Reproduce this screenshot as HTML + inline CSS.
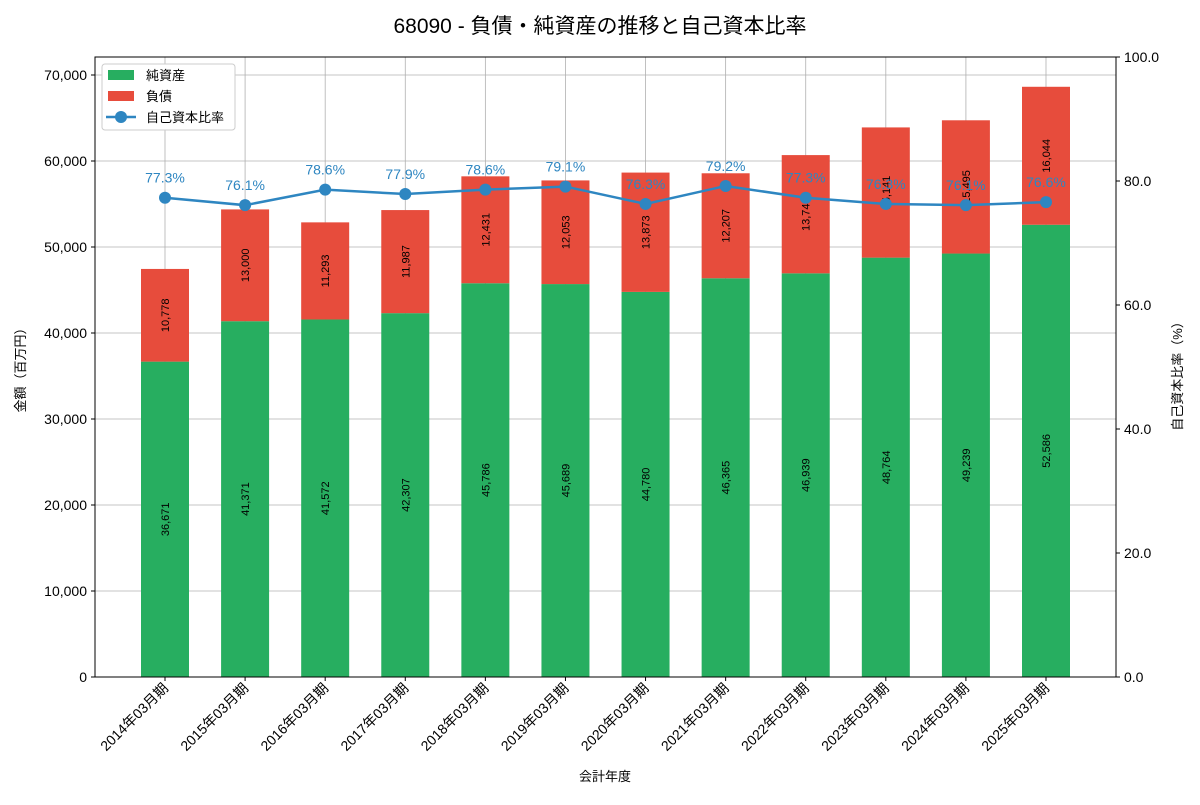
<!DOCTYPE html>
<html><head><meta charset="utf-8"><style>
body{margin:0;background:#fff}
svg{font-family:"Liberation Sans","Noto Sans CJK JP",sans-serif}
</style></head><body>
<svg id="c" width="1200" height="800">
<text x="600" y="33" text-anchor="middle" font-size="21">68090 - 負債・純資産の推移と自己資本比率</text>
</svg>
<script>
const categories=["2014年03月期","2015年03月期","2016年03月期","2017年03月期","2018年03月期","2019年03月期","2020年03月期","2021年03月期","2022年03月期","2023年03月期","2024年03月期","2025年03月期"];
const netAssets=[36671,41371,41572,42307,45786,45689,44780,46365,46939,48764,49239,52586];
const liabilities=[10778,13000,11293,11987,12431,12053,13873,12207,13748,15141,15495,16044];
const ratios=[77.3,76.1,78.6,77.9,78.6,79.1,76.3,79.2,77.3,76.3,76.1,76.6];
const leftTicks=[0,10000,20000,30000,40000,50000,60000,70000];
const rightTicks=[0,20,40,60,80,100];

const svg=document.getElementById('c');
const NS='http://www.w3.org/2000/svg';
const L=95,R=1116,T=57,B=677,LMAX=72093;
const y=v=>B-(v/LMAX)*(B-T);
const y2=v=>B-(v/100)*(B-T);
const step=(R-L-140)/(categories.length-1);
const x=i=>L+70+step*i;
function mk(tag,a,name,txt){const e=document.createElementNS(NS,tag);for(const k in a)e.setAttribute(k,a[k]);


if(txt!==undefined)e.textContent=txt;svg.appendChild(e);return e;}
leftTicks.forEach(t=>{mk('line',{x1:L,x2:R,y1:y(t),y2:y(t),stroke:'#b0b0b0','stroke-width':0.8},'grid-line-y');
mk('line',{x1:L-4,x2:L,y1:y(t),y2:y(t),stroke:'#000'},'y-tick');
mk('text',{x:L-8,y:y(t)+5,'text-anchor':'end','font-size':14},'y-tick-label',t.toLocaleString('en-US'));});
categories.forEach((c,i)=>mk('line',{x1:x(i),x2:x(i),y1:T,y2:B,stroke:'#b0b0b0','stroke-width':0.8},'grid-line-x'));
const bw=48;
categories.forEach((c,i)=>{
 mk('rect',{x:x(i)-bw/2,y:y(netAssets[i]),width:bw,height:B-y(netAssets[i]),fill:'#27ae60'},'bar-net-assets');
 mk('rect',{x:x(i)-bw/2,y:y(netAssets[i]+liabilities[i]),width:bw,height:y(netAssets[i])-y(netAssets[i]+liabilities[i]),fill:'#e74c3c'},'bar-liabilities');
 let cy=(B+y(netAssets[i]))/2;
 mk('text',{x:0,y:0,'font-size':11,'text-anchor':'middle',transform:`translate(${x(i)+4},${cy}) rotate(-90)`},'value-label-net',netAssets[i].toLocaleString('en-US'));
 cy=(y(netAssets[i])+y(netAssets[i]+liabilities[i]))/2;
 mk('text',{x:0,y:0,'font-size':11,'text-anchor':'middle',transform:`translate(${x(i)+4},${cy}) rotate(-90)`},'value-label-liab',liabilities[i].toLocaleString('en-US'));
 mk('line',{x1:x(i),x2:x(i),y1:B,y2:B+4,stroke:'#000'},'x-tick');
 mk('text',{x:0,y:0,'font-size':14,'text-anchor':'end',transform:`translate(${x(i)+4},${B+12}) rotate(-45)`},'x-tick-label',c);
});
mk('polyline',{points:ratios.map((r,i)=>x(i)+','+y2(r)).join(' '),fill:'none',stroke:'#2e86c1','stroke-width':2.5},'ratio-line');
ratios.forEach((r,i)=>{mk('circle',{cx:x(i),cy:y2(r),r:6,fill:'#2e86c1'},'ratio-point');
 mk('text',{x:x(i),y:y2(r)-15,'text-anchor':'middle','font-size':14,fill:'#2e86c1'},'ratio-label',r.toFixed(1)+'%');});
mk('rect',{x:L,y:T,width:R-L,height:B-T,fill:'none',stroke:'#000','stroke-width':1},'plot-frame');
rightTicks.forEach(t=>{mk('line',{x1:R,x2:R+4,y1:y2(t),y2:y2(t),stroke:'#000'},'y2-tick');
 mk('text',{x:R+8,y:y2(t)+5,'font-size':14},'y2-tick-label',t.toFixed(1));});
mk('text',{x:0,y:0,'font-size':13,'text-anchor':'middle',transform:`translate(25,367) rotate(-90)`},'y-axis-title','金額（百万円）');
mk('text',{x:0,y:0,'font-size':13,'text-anchor':'middle',transform:`translate(1182,373) rotate(-90)`},'y2-axis-title','自己資本比率（%）');
mk('text',{x:605,y:781,'font-size':13,'text-anchor':'middle'},'x-axis-title','会計年度');
mk('rect',{x:102,y:64,width:133,height:66,fill:'#fff',stroke:'#ccc',rx:3},'legend-box');
mk('rect',{x:108,y:70,width:26,height:10,fill:'#27ae60'},'legend-swatch-net');
mk('text',{x:146,y:80,'font-size':13},'legend-label-net','純資産');
mk('rect',{x:108,y:91,width:26,height:10,fill:'#e74c3c'},'legend-swatch-liab');
mk('text',{x:146,y:101,'font-size':13},'legend-label-liab','負債');
mk('line',{x1:106,x2:136,y1:117,y2:117,stroke:'#2e86c1','stroke-width':2.5},'legend-swatch-ratio');
mk('circle',{cx:121,cy:117,r:6,fill:'#2e86c1'},'legend-marker-ratio');
mk('text',{x:146,y:122,'font-size':13},'legend-label-ratio','自己資本比率');
</script>
</body></html>
